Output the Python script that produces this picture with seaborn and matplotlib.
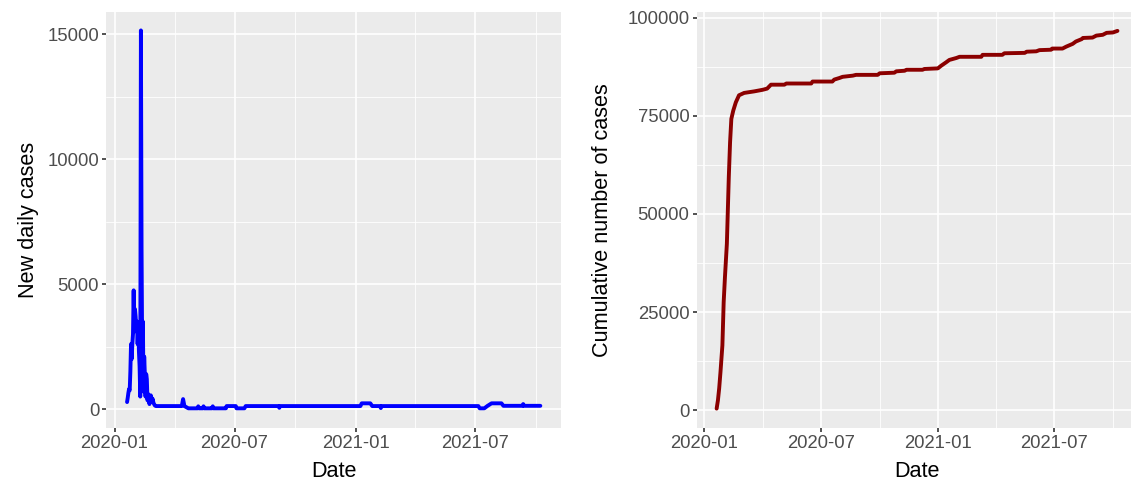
import matplotlib
matplotlib.use("Agg")
import matplotlib.pyplot as plt
import matplotlib.dates as mdates
from matplotlib.ticker import MultipleLocator
import pandas as pd
import seaborn as sns

# Daily new confirmed cases
new_dates = [
    "2020-01-20", "2020-01-21", "2020-01-22", "2020-01-23", "2020-01-24",
    "2020-01-25", "2020-01-26", "2020-01-27", "2020-01-28", "2020-01-29",
    "2020-01-30", "2020-01-31", "2020-02-01", "2020-02-02", "2020-02-03",
    "2020-02-04", "2020-02-05", "2020-02-06", "2020-02-07", "2020-02-08",
    "2020-02-09", "2020-02-10", "2020-02-11", "2020-02-12", "2020-02-13",
    "2020-02-14", "2020-02-15", "2020-02-16", "2020-02-17", "2020-02-18",
    "2020-02-19", "2020-02-20", "2020-02-21", "2020-02-22", "2020-02-23",
    "2020-02-24", "2020-02-25", "2020-02-26", "2020-02-27", "2020-02-28",
    "2020-02-29", "2020-03-01", "2020-03-02", "2020-03-03", "2020-03-04",
    "2020-03-05", "2020-03-06",
    "2020-04-12", "2020-04-14", "2020-04-16", "2020-04-22", "2020-05-06",
    "2020-05-07", "2020-05-08", "2020-05-14", "2020-05-15", "2020-05-16",
    "2020-05-28", "2020-05-29", "2020-05-30", "2020-06-09", "2020-06-18",
    "2020-06-19", "2020-06-26", "2020-07-03", "2020-07-04", "2020-07-16",
    "2020-07-18", "2020-09-06", "2020-09-07", "2020-09-08", "2021-01-08",
    "2021-01-10", "2021-01-23", "2021-01-26", "2021-02-07", "2021-02-08",
    "2021-02-09", "2021-07-06", "2021-07-08", "2021-07-15", "2021-07-20",
    "2021-07-26", "2021-08-10", "2021-08-13", "2021-09-11", "2021-09-12",
    "2021-09-13", "2021-10-08",
]
new_cases = [
    280, 450, 650, 800, 750,
    1500, 2600, 2000, 2600, 3000,
    4750, 3100, 4000, 3700, 3200,
    3500, 2600, 3300, 2300, 1700,
    500, 15150, 6400, 2000, 3500,
    700, 2100, 1400, 500, 1400,
    1200, 350, 600, 500, 200,
    450, 550, 450, 300, 400,
    250, 200, 150, 130, 120,
    120, 120,
    120, 400, 120, 30, 30,
    110, 30, 30, 110, 30,
    30, 110, 30, 30, 30,
    120, 120, 120, 30, 30,
    120, 120, 50, 120, 120,
    230, 230, 120, 120, 40,
    120, 120, 30, 30, 130,
    230, 230, 130, 130, 200,
    130, 130,
]

# Cumulative confirmed cases
cum_dates = [
    "2020-01-20", "2020-01-22", "2020-01-24", "2020-01-26", "2020-01-29",
    "2020-01-31", "2020-02-02", "2020-02-05", "2020-02-08", "2020-02-10",
    "2020-02-12", "2020-02-15", "2020-02-19", "2020-02-24", "2020-03-03",
    "2020-03-19", "2020-04-01", "2020-04-08", "2020-04-14", "2020-05-05",
    "2020-05-08", "2020-06-16", "2020-06-18", "2020-07-19", "2020-07-22",
    "2020-07-30", "2020-08-04", "2020-08-20", "2020-08-25", "2020-09-28",
    "2020-10-01", "2020-10-24", "2020-10-27", "2020-11-09", "2020-11-12",
    "2020-12-07", "2020-12-10", "2020-12-31", "2021-01-05", "2021-01-13",
    "2021-01-18", "2021-01-29", "2021-02-03", "2021-03-09", "2021-03-11",
    "2021-04-11", "2021-04-14", "2021-05-16", "2021-05-19", "2021-06-03",
    "2021-06-08", "2021-06-26", "2021-06-28", "2021-07-14", "2021-07-20",
    "2021-07-30", "2021-08-04", "2021-08-13", "2021-08-15", "2021-08-30",
    "2021-09-05", "2021-09-15", "2021-09-21", "2021-10-01", "2021-10-08",
]
cum_cases = [
    400, 2500, 5600, 9700, 16500,
    27500, 33900, 42400, 59300, 68200,
    74200, 76300, 78400, 80200, 80800,
    81200, 81600, 81900, 82900, 82900,
    83200, 83200, 83700, 83700, 84200,
    84600, 84900, 85200, 85400, 85400,
    85800, 85950, 86300, 86450, 86700,
    86700, 86900, 87050, 87700, 88600,
    89200, 89700, 90000, 90000, 90500,
    90500, 90900, 91000, 91300, 91400,
    91700, 91800, 92100, 92100, 92600,
    93300, 93900, 94500, 94800, 94900,
    95400, 95600, 96100, 96200, 96600,
]

df_new = pd.DataFrame({"Date": pd.to_datetime(new_dates), "cases": new_cases})
df_cum = pd.DataFrame({"Date": pd.to_datetime(cum_dates), "cases": cum_cases})

sns.set_theme(style="darkgrid", rc={
    "axes.facecolor": "#EBEBEB",
    "grid.color": "white",
    "axes.edgecolor": "#EBEBEB",
    "figure.facecolor": "white",
})
plt.rcParams["font.family"] = ["Liberation Sans", "DejaVu Sans"]

W, H = 1131, 487
fig = plt.figure(figsize=(W / 100, H / 100), dpi=100)
ax1 = fig.add_axes([106.4 / W, 1 - 428 / H, (561 - 106.4) / W, (428 - 11.5) / H])
ax2 = fig.add_axes([696.6 / W, 1 - 427.5 / H, (1137.5 - 696.6) / W, (427.5 - 12) / H])

sns.lineplot(data=df_new, x="Date", y="cases", color="#0000FF", lw=2.8, ax=ax1)
sns.lineplot(data=df_cum, x="Date", y="cases", color="#8B0000", lw=2.8, ax=ax2)


def expand(lo, hi, frac=0.05):
    span = hi - lo
    return lo - frac * span, hi + frac * span


all_dates = pd.concat([df_new["Date"], df_cum["Date"]])
xlo, xhi = expand(all_dates.min(), all_dates.max())

for ax, step in ((ax1, 5000), (ax2, 25000)):
    ax.set_xlim(xlo, xhi)
    ax.xaxis.set_major_locator(mdates.MonthLocator(bymonth=[1, 7]))
    ax.xaxis.set_minor_locator(mdates.MonthLocator(bymonth=[4, 10]))
    ax.xaxis.set_major_formatter(mdates.DateFormatter("%Y-%m"))
    ax.yaxis.set_major_locator(MultipleLocator(step))
    ax.yaxis.set_minor_locator(MultipleLocator(step / 2))
    ax.grid(which="major", color="white", lw=1.2)
    ax.grid(which="minor", color="white", lw=0.6)
    ax.tick_params(which="major", length=3.2, width=1.2, color="#333333",
                   labelcolor="#4D4D4D", labelsize=13.3, pad=2,
                   bottom=True, left=True)
    ax.tick_params(which="minor", length=0)
    for s in ax.spines.values():
        s.set_visible(False)
    ax.set_xlabel("Date", fontsize=15.6, color="black", labelpad=6.5)

ax1.set_ylim(*expand(0, df_new["cases"].max()))
ax2.set_ylim(*expand(df_cum["cases"].min(), df_cum["cases"].max()))
ax1.set_ylabel("New daily cases", fontsize=15.6, color="black", labelpad=6)
ax2.set_ylabel("Cumulative number of cases", fontsize=15.6, color="black", labelpad=10)

fig.savefig("out.png", dpi=100)
